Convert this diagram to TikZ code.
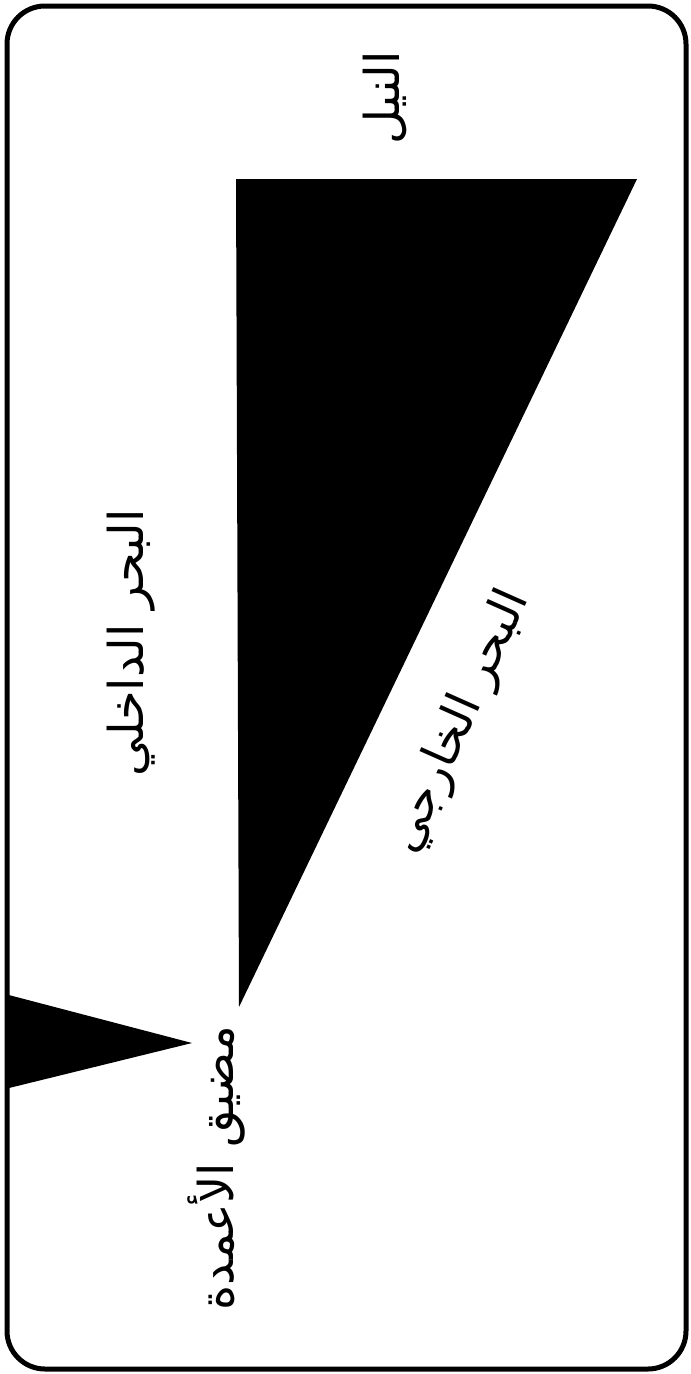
\documentclass[tikz,border=0pt]{standalone}
\usepackage{fontspec}
\newfontfamily\arabicfont[Script=Arabic]{DejaVu Sans}
\TeXXeTstate=1
\begin{document}
\begin{tikzpicture}[x=1pt,y=-1pt,
  label/.style={font=\arabicfont\fontsize{48}{56}\selectfont, inner sep=0pt, text=black}]
\useasboundingbox (0,0) rectangle (691,1374);
\fill[white] (0,0) rectangle (691,1374);
% frame
\draw[line width=5pt, rounded corners=38pt] (7,6) rectangle (686,1369);
% large triangle
\fill[black] (236,179) -- (637,179) -- (239,1007) -- cycle;
% small triangle (strait)
\fill[black] (5,994) -- (192,1043) -- (5,1089) -- cycle;
% labels
\node[label, rotate=90] (nile) at (385,98) {\beginR النيل\endR};
\node[label, rotate=90] (inner) at (131,643) {\beginR البحر الداخلي\endR};
\node[label, rotate=66] (outer) at (460,722) {\beginR البحر الخارجي\endR};
\node[label, rotate=90] (strait) at (216,1168) {\beginR مضيق الأعمدة\endR};
\end{tikzpicture}
\end{document}
